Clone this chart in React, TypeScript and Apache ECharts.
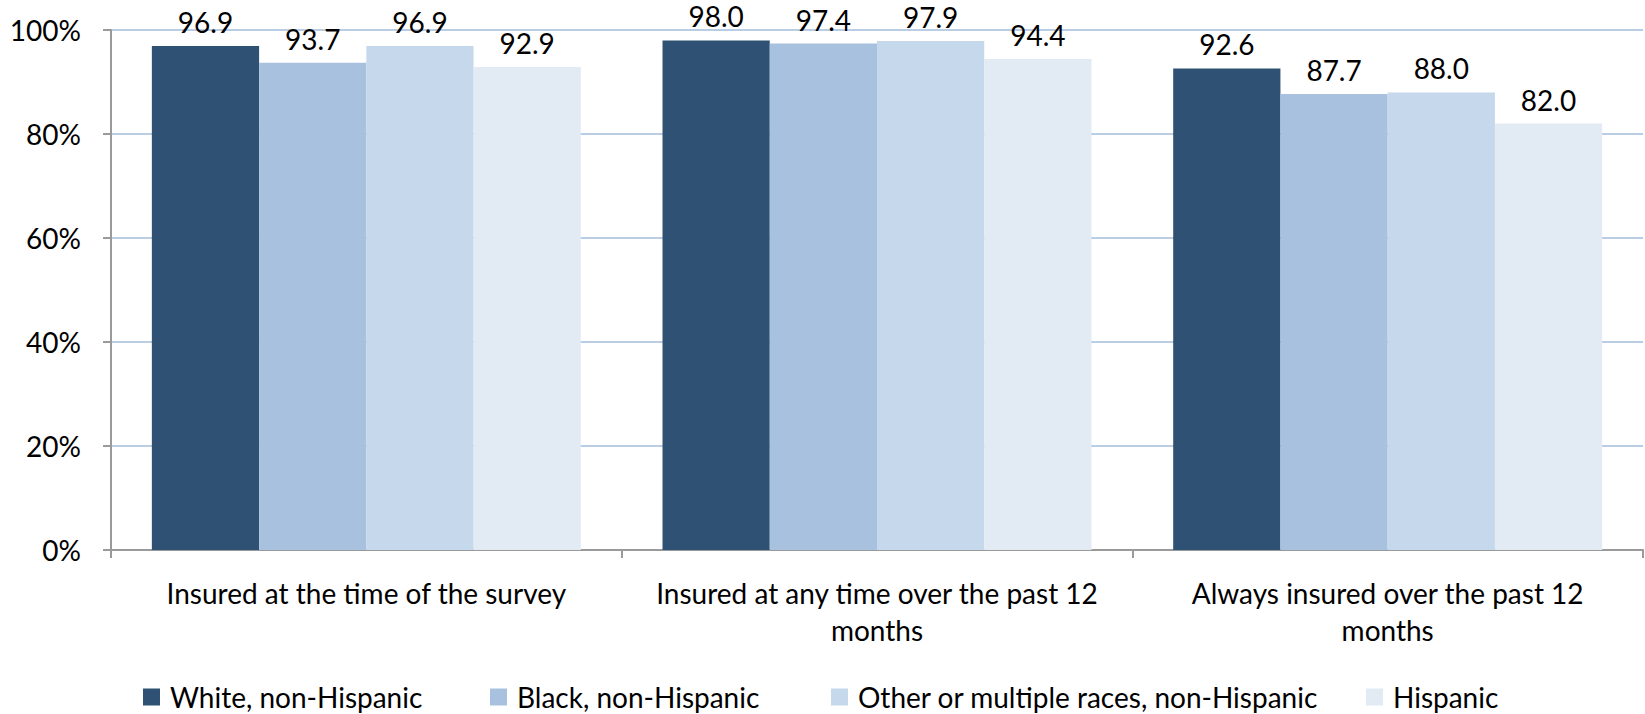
import React, { useEffect, useRef } from "react";
import * as echarts from "echarts";

const categories = [
  "Insured at the time of the survey",
  "Insured at any time over the past 12\nmonths",
  "Always insured over the past 12\nmonths",
];
const seriesNames = [
  "White, non-Hispanic",
  "Black, non-Hispanic",
  "Other or multiple races, non-Hispanic",
  "Hispanic",
];
const white = [96.9, 98.0, 92.6];
const black = [93.7, 97.4, 87.7];
const other = [96.9, 97.9, 88.0];
const hispanic = [92.9, 94.4, 82.0];
const yTicks = [0, 20, 40, 60, 80, 100];

const colors = ["#2f5173", "#a7c1df", "#c5d8ec", "#e2eaf4"];
const legendLefts = [143, 490, 831, 1366];
const FONT = "Lato";
const FS = 28;

export default function App() {
  const ref = useRef<HTMLDivElement>(null);
  useEffect(() => {
    if (!ref.current) return;
    const chart = echarts.init(ref.current, undefined, { renderer: "svg" });
    const data = [white, black, other, hispanic];
    chart.setOption({
      animation: false,
      textStyle: { fontFamily: FONT },
      legend: seriesNames.map((n, i) => ({
        data: [n],
        icon: "rect",
        left: legendLefts[i],
        top: 683,
        padding: 0,
        itemWidth: 17,
        itemHeight: 17,
        itemGap: 10,
        textStyle: { fontSize: FS, lineHeight: 28, color: "#000", fontFamily: FONT, padding: [0, 0, 0, 5] },
      })),
      grid: { left: 111, right: 2, top: 30, bottom: 164, containLabel: false },
      xAxis: {
        type: "category",
        data: categories,
        axisLine: { lineStyle: { color: "#9a9a9a", width: 2 } },
        axisTick: { show: true, length: 8, interval: 0, lineStyle: { color: "#9a9a9a", width: 2 } },
        axisLabel: { fontSize: FS, color: "#000", margin: 24, lineHeight: 37, interval: 0, fontFamily: FONT },
      },
      yAxis: {
        type: "value",
        min: yTicks[0],
        max: yTicks[yTicks.length - 1],
        interval: 20,
        axisLine: { show: true, lineStyle: { color: "#9a9a9a", width: 2 } },
        axisTick: { show: true, length: 8, lineStyle: { color: "#9a9a9a", width: 2 } },
        axisLabel: { formatter: "{value}%", fontSize: FS, color: "#000", margin: 30, fontFamily: FONT },
        splitLine: { lineStyle: { color: "#b9cde5", width: 2 } },
      },
      series: seriesNames.map((n, i) => ({
        name: n,
        type: "bar",
        data: data[i],
        barGap: "0%",
        barCategoryGap: "16%",
        itemStyle: { color: colors[i] },
        label: {
          show: true,
          position: "top",
          distance: 10,
          formatter: (p: any) => Number(p.value).toFixed(1),
          fontSize: FS,
          color: "#000",
          fontFamily: FONT,
        },
      })),
    });
    return () => chart.dispose();
  }, []);
  return (
    <div
      ref={ref}
      style={{ position: "fixed", left: 0, top: 0, width: 1645, height: 714, background: "#fff" }}
    />
  );
}
